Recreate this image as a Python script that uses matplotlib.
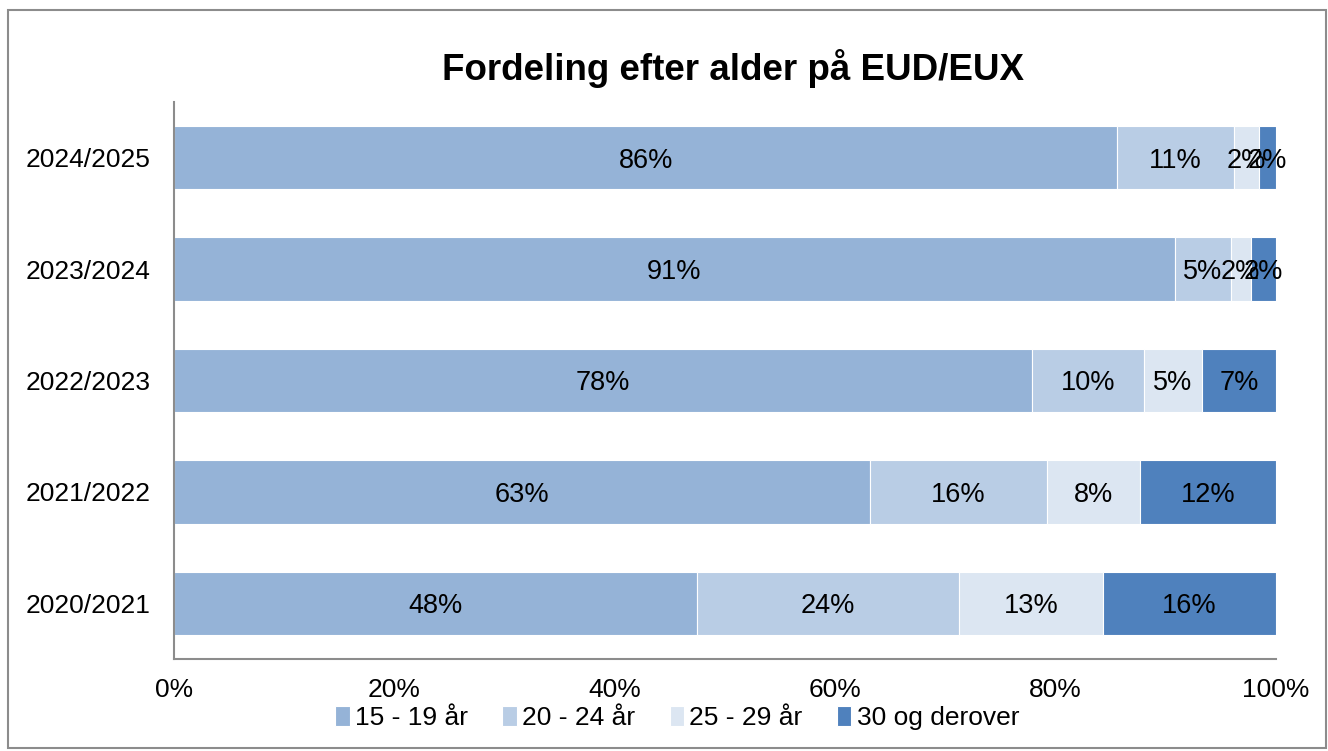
import matplotlib
matplotlib.use("Agg")
import matplotlib.pyplot as plt
from matplotlib.patches import Rectangle

years = ["2020/2021", "2021/2022", "2022/2023", "2023/2024", "2024/2025"]
series_names = ["15 - 19 år", "20 - 24 år", "25 - 29 år", "30 og derover"]
v15_19 = [47.5, 63.2, 77.9, 90.8, 85.6]
v20_24 = [23.7, 16.0, 10.1, 5.1, 10.6]
v25_29 = [13.1, 8.5, 5.3, 1.8, 2.3]
v30 = [15.7, 12.3, 6.7, 2.3, 1.5]
series = [v15_19, v20_24, v25_29, v30]
colors = ["#95B3D7", "#B9CDE5", "#DCE6F2", "#4F81BD"]
xticks = [0, 20, 40, 60, 80, 100]

plt.rcParams['font.family'] = ['Liberation Sans', 'DejaVu Sans']
fig = plt.figure(figsize=(13.28, 7.51), dpi=100)
fig.patches.append(Rectangle((8/1328, 1-748/751), 1318/1328, 738/751, transform=fig.transFigure,
                             fill=False, edgecolor="#8C8C8C", linewidth=1.5))
ax = fig.add_axes([174/1328, 1-659/751, 1102/1328, 557/751])

ypos = list(range(len(years)))
left = [0.0]*len(years)
handles = []
for name, vals, c in zip(series_names, series, colors):
    bars = ax.barh(ypos, vals, left=left, height=0.57, color=c, edgecolor="white", linewidth=0.8, label=name)
    handles.append(bars)
    for y, l, v in zip(ypos, left, vals):
        ax.text(l + v/2, y, f"{round(v):d}%", ha="center", va="center_baseline", fontsize=19.5, color="black")
    left = [a + b for a, b in zip(left, vals)]

ax.set_xlim(0, 100)
ax.set_ylim(-0.5, 4.5)
ax.set_xticks(xticks)
ax.set_xticklabels([f"{t}%" for t in xticks], fontsize=19)
ax.set_yticks(ypos)
ax.set_yticklabels(years, fontsize=19)
ax.tick_params(length=0, pad=14)
ax.tick_params(axis='y', pad=17)
for s in ["top", "right"]:
    ax.spines[s].set_visible(False)
for s in ["left", "bottom"]:
    ax.spines[s].set_color("#8C8C8C")
    ax.spines[s].set_linewidth(1.5)

fig.text(0.552, 1-68/751, "Fordeling efter alder på EUD/EUX", ha="center", va="center",
         fontsize=26.5, fontweight="bold")
fig.legend(handles=handles, labels=series_names, loc="center", bbox_to_anchor=(0.51, 1-718/751),
           ncol=4, frameon=False, fontsize=19, handlelength=0.55, handleheight=0.8,
           handletextpad=0.2, columnspacing=1.3, borderaxespad=0)

fig.savefig("out.png", dpi=100)
